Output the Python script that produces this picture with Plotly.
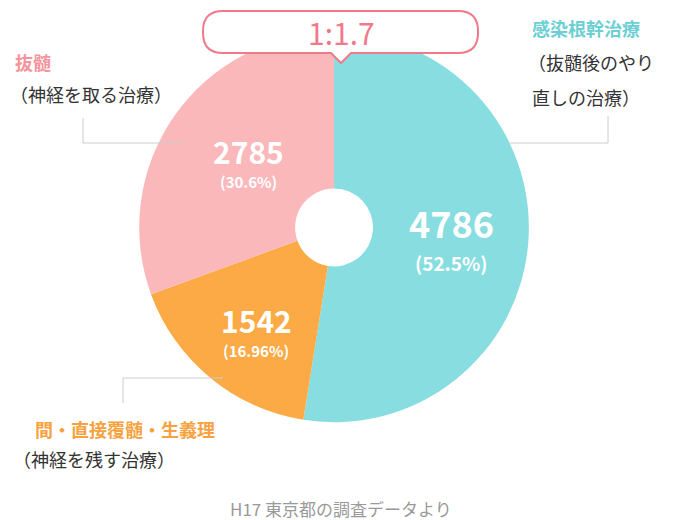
import plotly.graph_objects as go

labels = ["感染根幹治療", "間・直接覆髄・生義理", "抜髄"]
values = [4786, 1542, 2785]
pcts = ["(52.5%)", "(16.96%)", "(30.6%)"]
colors = ["#88DDE0", "#FBAA45", "#FBB8BB"]
FONT = "Noto Sans CJK JP"

fig = go.Figure()
fig.add_trace(go.Pie(
    labels=labels, values=values, sort=False, direction="clockwise", rotation=0,
    hole=0.2, marker=dict(colors=colors, line=dict(width=0)),
    textinfo="none", hoverinfo="skip", showlegend=False,
    domain=dict(x=[0.193, 0.766], y=[0.203, 0.953]),
))

# pixel-space axes for annotations and shapes
fig.update_xaxes(range=[0, 680], visible=False)
fig.update_yaxes(range=[520, 0], visible=False)
fig.add_trace(go.Scatter(x=[0], y=[0], mode="markers", marker=dict(opacity=0), showlegend=False, hoverinfo="skip"))

def txt(x, y, s, size, color, anchor="center", bold=False):
    fig.add_annotation(x=x, y=y, xref="x", yref="y", text=f"<b>{s}</b>" if bold else s, showarrow=False,
                       xanchor=anchor, font=dict(size=size, color=color, family=FONT))

# values on slices
txt(443, 214, str(values[0]), 36, "white", bold=True)
txt(443, 254, pcts[0], 19, "white", bold=True)
txt(248, 312, str(values[1]), 30, "white", bold=True)
txt(248, 342, pcts[1], 15, "white", bold=True)
txt(240, 143, str(values[2]), 30, "white", bold=True)
txt(240, 173, pcts[2], 15, "white", bold=True)

# category labels
txt(522, 20, labels[0], 18, "#6CCFD3", "left", True)
txt(518, 54, "（抜髄後のやり", 18, "#333333", "left")
txt(522, 89, "直しの治療）", 18, "#333333", "left")
txt(5, 54, labels[2], 18, "#F6949B", "left", True)
txt(0, 86, "（神経を取る治療）", 18, "#333333", "left")
txt(25, 421, labels[1], 18, "#F7A23F", "left", True)
txt(3, 451, "（神経を残す治療）", 18, "#333333", "left")
txt(333, 500, "H17 東京都の調査データより", 17, "#999999")

line = dict(color="#CCCCCC", width=1)
fig.add_shape(type="path", path="M 500 135 L 600 135 L 600 108", line=line, xref="x", yref="y")
fig.add_shape(type="path", path="M 75 110 L 75 135 L 175 135", line=line, xref="x", yref="y")
fig.add_shape(type="path", path="M 115 395 L 115 370 L 215 370", line=line, xref="x", yref="y")

# ratio bubble
fig.add_shape(type="path", xref="x", yref="y", fillcolor="white", line=dict(color="#F07A8A", width=2),
              path="M 215 3 L 450 3 Q 470 3 470 23 L 470 25 Q 470 45 450 45 L 343 45 L 333 55 L 323 45 "
                   "L 215 45 Q 195 45 195 25 L 195 23 Q 195 3 215 3 Z")
txt(333, 24, "1:1.7", 30, "#F07A8A")

fig.update_layout(width=680, height=520, margin=dict(l=0, r=0, t=0, b=0),
                  paper_bgcolor="white", plot_bgcolor="rgba(0,0,0,0)")
fig.write_html("out.html")
